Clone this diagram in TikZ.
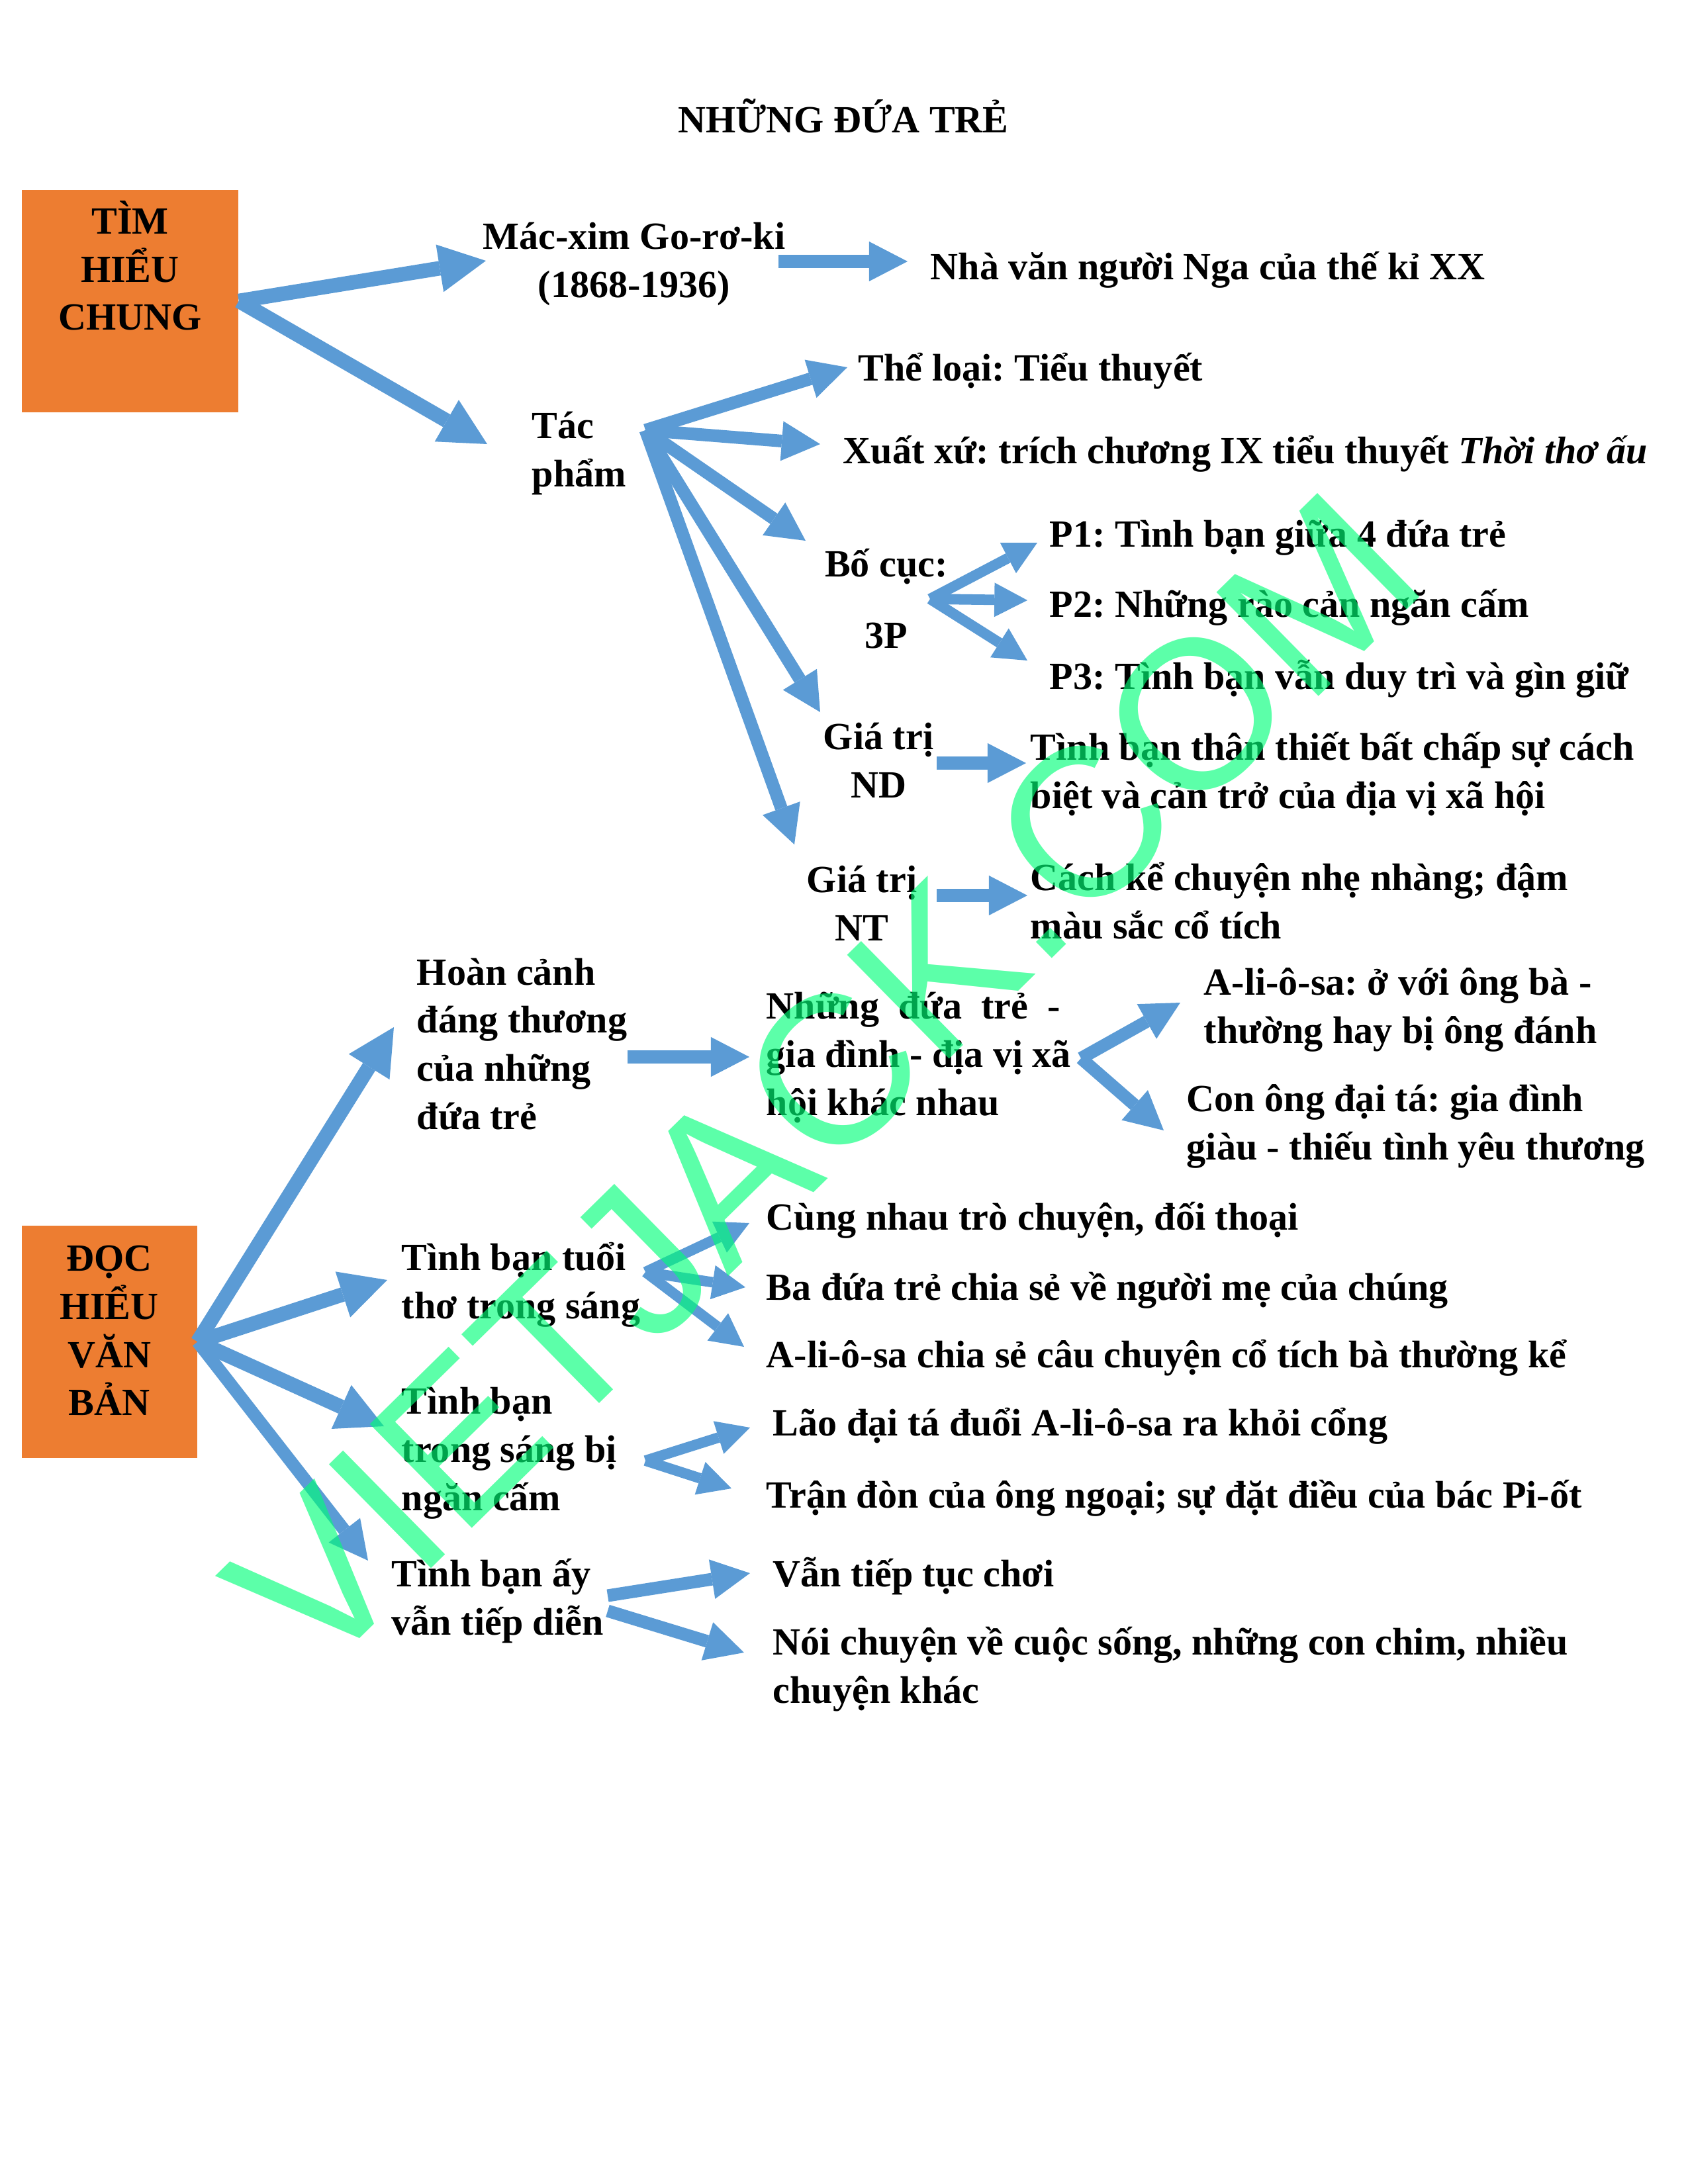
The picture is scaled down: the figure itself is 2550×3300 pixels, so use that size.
\documentclass[tikz,border=0pt]{standalone}
\usepackage{fontspec}
\setmainfont{Liberation Serif}
\newfontfamily\wmfont{Liberation Sans}
\usetikzlibrary{arrows.meta}
\definecolor{arrowblue}{RGB}{91,155,213}
\definecolor{boxorange}{RGB}{237,125,49}
\definecolor{wmgreen}{RGB}{0,255,120}
\frenchspacing

\begin{document}
\begin{tikzpicture}[
    x=0.2409pt, y=-0.2409pt,
    every node/.style={font=\fontsize{14pt}{17.5pt}\selectfont\bfseries, inner sep=0pt},
    txt/.style={anchor=base west, align=left},
    ctxt/.style={anchor=base, align=center},
    orangebox/.style={fill=boxorange, anchor=north west},
    bigarr/.style={draw=arrowblue, line width=5.3pt,
                   -{Triangle[length=17pt, width=17.5pt, line width=0pt]}},
    midarr/.style={draw=arrowblue, line width=4.6pt,
                   -{Triangle[length=14pt, width=14.5pt, line width=0pt]}},
    smallarr/.style={draw=arrowblue, line width=3.8pt,
                     -{Triangle[length=12pt, width=12.5pt, line width=0pt]}},
    wmark/.style={font=\wmfont\fontsize{77pt}{77pt}\selectfont, text=wmgreen,
                  opacity=0.64, rotate=44.5, anchor=base west}
  ]
  \useasboundingbox (0,0) rectangle (2550,3300);

  % Title
  \node[ctxt] (title) at (1274,200) {NHỮNG ĐỨA TRẺ};

  % Part 1: general (multi-line nodes sit on their last line)
  \node[orangebox] (timhieu) at (32,286)
    {\parbox[c][80.9pt][t]{78.8pt}{\centering\rule{0pt}{16.1pt}TÌM\\HIỂU\\CHUNG}};
  \node[ctxt] (tacgia) at (958,449) {Mác-xim Go-rơ-ki\\(1868-1936)};
  \node[txt] (nhavan) at (1405,422) {Nhà văn người Nga của thế kỉ XX};
  \node[txt] (tacpham) at (803,735) {Tác\\phẩm};
  \node[txt] (theloai) at (1296,575) {Thể loại: Tiểu thuyết};
  \node[txt] (xuatxu) at (1273,700) {Xuất xứ: trích chương IX tiểu thuyết \textit{Thời thơ ấu}};
  \node[ctxt] (bocuc) at (1339,979) {Bố cục:\\[8.4pt]3P};
  \node[txt] (p1) at (1585,826) {P1: Tình bạn giữa 4 đứa trẻ};
  \node[txt] (p2) at (1585,932) {P2: Những rào cản ngăn cấm};
  \node[txt] (p3) at (1585,1041) {P3: Tình bạn vẫn duy trì và gìn giữ};
  \node[ctxt] (giatrind) at (1327,1205) {Giá trị\\ND};
  \node[txt] (noidung) at (1556,1221) {Tình bạn thân thiết bất chấp sự cách\\biệt và cản trở của địa vị xã hội};
  \node[ctxt] (giatrint) at (1302,1421) {Giá trị\\NT};
  \node[txt] (nghethuat) at (1556,1418) {Cách kể chuyện nhẹ nhàng; đậm\\màu sắc cổ tích};

  % Part 2: reading
  \node[orangebox] (dochieu) at (32,1851)
    {\parbox[c][84.6pt][t]{63.8pt}{\centering\rule{0pt}{16.6pt}ĐỌC\\HIỂU\\VĂN\\BẢN}};
  \node[txt] (hoancanh) at (629,1706) {Hoàn cảnh\\đáng thương\\của những\\đứa trẻ};
  \node[txt] (nhungdua) at (1157,1685)
    {\hbox to 107pt{Những\hfill đứa\hfill trẻ\hfill -}\\gia đình - địa vị xã\\hội khác nhau};
  \node[txt] (aliosa) at (1818,1576) {A-li-ô-sa: ở với ông bà -\\thường hay bị ông đánh};
  \node[txt] (conong) at (1792,1752) {Con ông đại tá: gia đình\\giàu - thiếu tình yêu thương};
  \node[txt] (tuoitho) at (606,1992) {Tình bạn tuổi\\thơ trong sáng};
  \node[txt] (cungnhau) at (1157,1858) {Cùng nhau trò chuyện, đối thoại};
  \node[txt] (badua) at (1157,1964) {Ba đứa trẻ chia sẻ về người mẹ của chúng};
  \node[txt] (chiase) at (1157,2066) {A-li-ô-sa chia sẻ câu chuyện cổ tích bà thường kể};
  \node[txt] (ngancam) at (606,2282) {Tình bạn\\trong sáng bị\\ngăn cấm};
  \node[txt] (duoi) at (1167,2169) {Lão đại tá đuổi A-li-ô-sa ra khỏi cổng};
  \node[txt] (trandon) at (1157,2278) {Trận đòn của ông ngoại; sự đặt điều của bác Pi-ốt};
  \node[txt] (tiepdien) at (591,2470) {Tình bạn ấy\\vẫn tiếp diễn};
  \node[txt] (choi) at (1167,2397) {Vẫn tiếp tục chơi};
  \node[txt] (noichuyen) at (1167,2573) {Nói chuyện về cuộc sống, những con chim, nhiều\\chuyện khác};

  % arrow ends
  \coordinate (tgIn) at (734,394);
  \coordinate (tpIn) at (736,671);
  \coordinate (tgOut) at (1176,395);
  \coordinate (nvIn) at (1371,395);
  \coordinate (tpHub) at (975,650);
  \coordinate (tlIn) at (1280,555);
  \coordinate (xxIn) at (1239,671);
  \coordinate (bcIn) at (1217,817);
  \coordinate (ndIn) at (1239,1076);
  \coordinate (ntIn) at (1200,1276);
  \coordinate (bcHub) at (1405,905);
  \coordinate (p1In) at (1567,820);
  \coordinate (p2In) at (1552,907);
  \coordinate (p3In) at (1552,998);
  \coordinate (ndOut) at (1415,1153);
  \coordinate (ndTo) at (1550,1153);
  \coordinate (ntOut) at (1415,1353);
  \coordinate (ntTo) at (1552,1353);
  \coordinate (hcIn) at (595,1552);
  \coordinate (ttIn) at (585,1934);
  \coordinate (ncIn) at (580,2155);
  \coordinate (tdIn) at (556,2358);
  \coordinate (hcOut) at (948,1597);
  \coordinate (ndaIn) at (1132,1597);
  \coordinate (ndaHub) at (1633,1599);
  \coordinate (alIn) at (1783,1515);
  \coordinate (coIn) at (1758,1708);
  \coordinate (ttHub) at (975,1922);
  \coordinate (cnIn) at (1132,1848);
  \coordinate (bdIn) at (1126,1945);
  \coordinate (csIn) at (1124,2035);
  \coordinate (ncHub) at (975,2207);
  \coordinate (duIn) at (1133,2157);
  \coordinate (tdnIn) at (1105,2249);
  \coordinate (tdOutA) at (918,2411);
  \coordinate (chIn) at (1133,2377);
  \coordinate (tdOutB) at (918,2434);
  \coordinate (ncnIn) at (1124,2497);

  % arrows, part 1
  \draw[bigarr] (timhieu.east) -- (tgIn);
  \draw[bigarr] (timhieu.east) -- (tpIn);
  \draw[midarr] (tgOut) -- (nvIn);
  \foreach \t in {tlIn, xxIn, bcIn, ndIn, ntIn}
    \draw[midarr] (tpHub) -- (\t);
  \foreach \t in {p1In, p2In, p3In}
    \draw[smallarr] (bcHub) -- (\t);
  \draw[midarr] (ndOut) -- (ndTo);
  \draw[midarr] (ntOut) -- (ntTo);

  % arrows, part 2
  \foreach \t in {hcIn, ttIn, ncIn}
    \draw[bigarr] (dochieu.east) -- (\t);
  \draw[midarr] (dochieu.east) -- (tdIn);
  \draw[midarr] (hcOut) -- (ndaIn);
  \draw[midarr] (ndaHub) -- (alIn);
  \draw[midarr] (ndaHub) -- (coIn);
  \foreach \t in {cnIn, bdIn, csIn}
    \draw[smallarr] (ttHub) -- (\t);
  \draw[smallarr] (ncHub) -- (duIn);
  \draw[smallarr] (ncHub) -- (tdnIn);
  \draw[midarr] (tdOutA) -- (chIn);
  \draw[midarr] (tdOutB) -- (ncnIn);

  % watermark
  \node[wmark] (wm) at (478,2540) {VIETJACK.COM};
\end{tikzpicture}
\end{document}
